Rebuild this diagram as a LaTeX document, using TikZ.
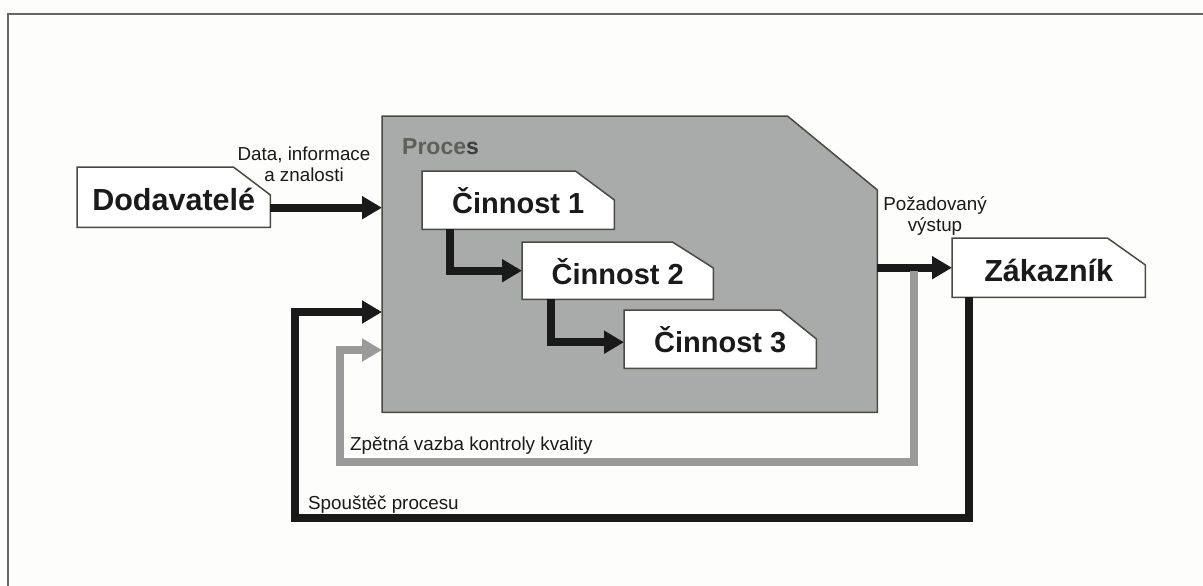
\documentclass[tikz,border=0pt]{standalone}
\usepackage{fontspec}
\setmainfont{Liberation Sans}
\usetikzlibrary{arrows.meta,backgrounds}

\definecolor{paper}{HTML}{FDFDFB}
\definecolor{procfill}{HTML}{A9ABAA}
\definecolor{edge}{HTML}{4A4A42}
\definecolor{ink}{HTML}{1A1A1A}
\definecolor{fbgray}{HTML}{9A9A9A}
\definecolor{framecol}{HTML}{666666}
\definecolor{proctext}{HTML}{5E5F58}

% outline of a box whose top right corner is cut off
\newcommand\chamferbox[4][]{%
  \draw[edgeline,#1] (#2.south west) -- (#2.north west) -- ([xshift=-#3pt]#2.north east)
    -- ([yshift=-#4pt]#2.north east) -- (#2.south east) -- cycle;}

\tikzset{
  edgeline/.style={draw=edge, line width=1.5pt, line join=miter},
  stepbox/.style={rectangle, draw=none, inner sep=0pt, anchor=north west,
    text=ink, text height=27pt, text depth=0pt,
    font=\fontsize{29}{29}\selectfont\bfseries},
  lbl/.style={inner sep=0pt, text=ink, align=center,
    font=\fontsize{18.8}{21}\selectfont},
  flow/.style={draw=ink, line width=8pt, line join=miter,
    -{Triangle[length=20pt,width=22pt]}},
  fback/.style={flow, draw=fbgray}
}

\begin{document}
\begin{tikzpicture}[x=1pt,y=-1pt]
\useasboundingbox (0,0) rectangle (1203,586);
\clip (0,0) rectangle (1203,586);

% process area and its activities
\node[stepbox, minimum width=495pt, minimum height=296pt] (proc) at (382,116) {};
\node[anchor=base west, inner sep=0pt, text=proctext,
      font=\fontsize{23}{23}\selectfont\bfseries] (proclbl) at (402,154)
      {Proce\textcolor{ink!85}{s}};

\node[stepbox, minimum width=193pt, minimum height=60pt,
      font=\fontsize{30.5}{30.5}\selectfont\bfseries] (dod) at (77,167) {Dodavatelé};
\node[stepbox, minimum width=192pt, minimum height=58pt] (c1) at (422,171) {Činnost 1};
\node[stepbox, minimum width=191pt, minimum height=57pt] (c2) at (522,242) {Činnost 2};
\node[stepbox, minimum width=192pt, minimum height=58pt] (c3) at (624,310) {Činnost 3};
\node[stepbox, minimum width=193pt, minimum height=59pt,
      font=\fontsize{30.5}{30.5}\selectfont\bfseries] (zak) at (952,238) {Zákazník};

% labels
\node[lbl] (datalbl) at (304,164) {Data, informace\\a znalosti};
\node[lbl] (outlbl) at (935,216) {Požadovaný\\výstup};
\node[lbl, anchor=base west] (fblbl) at (350,450) {Zpětná vazba kontroly kvality};
\node[lbl, anchor=base west] (triglbl) at (308,509) {Spouštěč procesu};

\begin{scope}[on background layer]
  \fill[paper] (0,0) rectangle (1203,586);
  \draw[framecol, line width=2pt] (8,14) rectangle (1240,620);
  \chamferbox[fill=procfill]{proc}{90}{74}
  \chamferbox[fill=white]{dod}{37}{28}
  \chamferbox[fill=white]{c1}{39}{29}
  \chamferbox[fill=white]{c2}{41}{26}
  \chamferbox[fill=white]{c3}{36}{29}
  \chamferbox[fill=white]{zak}{38}{27}
\end{scope}

% connectors
\draw[flow] ([yshift=-10.5pt]dod.east) coordinate (dodOut) -- (dodOut -| proc.west);
\draw[flow] ([xshift=28pt]c1.south west) |- (c2.west);
\draw[flow] ([xshift=28.5pt]c2.south west) |- ([yshift=-3pt]c3.west);
\draw[flow] (zak.west -| proc.east) -- (zak.west);

% quality feedback loop
\coordinate (qTop) at (913.5,271);
\coordinate (qBot) at (340,461.5);
\coordinate (qIn) at (340,350);
\draw[fback] (qTop) |- (qBot) -- (qIn) -- (qIn -| proc.west);

% process trigger loop
\coordinate (tBot) at (294.5,517.5);
\coordinate (tIn) at (294.5,312);
\draw[flow] ([xshift=16.5pt]zak.south west) |- (tBot) -- (tIn) -- (tIn -| proc.west);
\end{tikzpicture}
\end{document}
